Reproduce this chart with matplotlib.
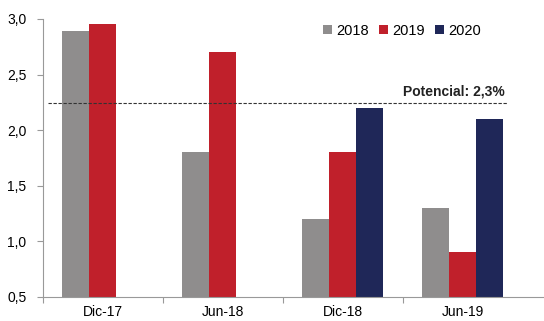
import numpy as np
import matplotlib
matplotlib.use('Agg')
from matplotlib import pyplot as plt

categories = ['Dic-17', 'Jun-18', 'Dic-18', 'Jun-19']
series = ['2018', '2019', '2020']
v2018 = [2.89, 1.80, 1.20, 1.30]
v2019 = [2.95, 2.70, 1.80, 0.90]
v2020 = [np.nan, np.nan, 2.20, 2.10]
potencial = 2.24
colors = ['#8f8d8d', '#c0202b', '#1f2758']

plt.rcParams['font.family'] = ['Liberation Sans', 'DejaVu Sans']
fig = plt.figure(figsize=(5.44, 3.21), dpi=100)
ax = fig.add_axes([0.079, 0.075, 0.921, 0.866])

x = np.arange(len(categories))
w = 0.225
for i, (vals, name) in enumerate(zip([v2018, v2019, v2020], series)):
    ax.bar(x + (i - 1) * w, vals, width=w, bottom=0, color=colors[i], label=name)

ax.plot([-0.458, 3.375], [potencial, potencial], ls='--', color='#333333', lw=0.8, dashes=(3, 1.5))
ax.text(3.35, potencial + 0.04, 'Potencial: 2,3%', ha='right', va='bottom',
        fontsize=10, fontweight='bold', color='#222222')

ax.set_ylim(0.5, 3.0)
ax.set_yticks(np.arange(0.5, 3.01, 0.5))
ax.set_yticklabels([f'{t:.1f}'.replace('.', ',') for t in np.arange(0.5, 3.01, 0.5)], fontsize=10)
ax.set_xlim(-0.5, 3.675)
ax.set_xticks([-0.5, 0.5, 1.5, 2.5])
ax.set_xticklabels([])
ax.set_xticks(x, minor=True)
ax.set_xticklabels(categories, minor=True, fontsize=10)
ax.tick_params(axis='x', which='minor', length=0, pad=6)
ax.tick_params(axis='x', which='major', length=4, color='#999999')
ax.tick_params(axis='y', length=4, color='#999999', pad=8)
for s in ['top', 'right']:
    ax.spines[s].set_visible(False)
for s in ['left', 'bottom']:
    ax.spines[s].set_color('#999999')
    ax.spines[s].set_linewidth(0.8)

ax.legend(loc='upper right', bbox_to_anchor=(0.9, 1.03), ncol=3, frameon=False, fontsize=10.5,
          handlelength=0.6, handleheight=0.6, handletextpad=0.3, columnspacing=0.7)

fig.savefig('out.png', dpi=100)
